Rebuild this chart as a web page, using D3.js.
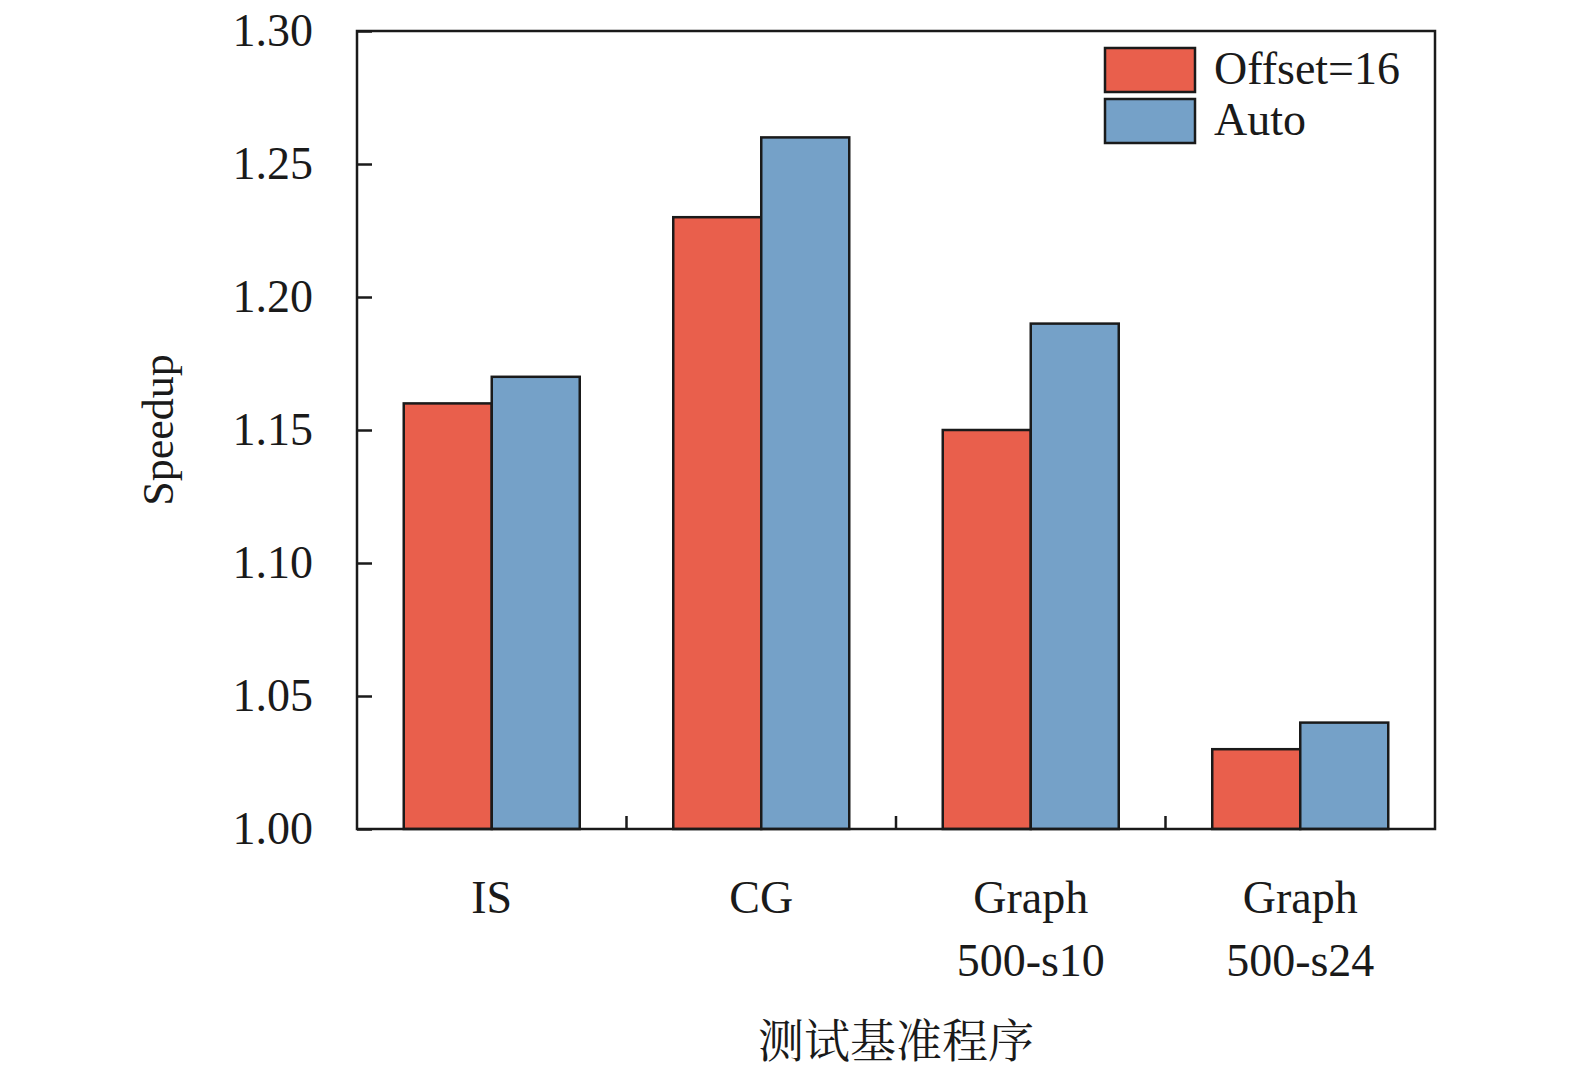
<!DOCTYPE html>
<html><head><meta charset="utf-8">
<script src="https://cdn.jsdelivr.net/npm/d3@7"></script>
<style>body{margin:0;background:#fff}</style></head>
<body><svg id="c" width="1575" height="1073"></svg>
<script>
const categories = [["IS"],["CG"],["Graph","500-s10"],["Graph","500-s24"]];
const seriesNames = ["Offset=16","Auto"];
const offset16 = [1.16,1.23,1.15,1.03];
const autoVals = [1.17,1.26,1.19,1.04];
const yTicks = [1.00,1.05,1.10,1.15,1.20,1.25,1.30];
const colors = ["#E95F4C","#75A1C8"];

const svg = d3.select("#c");
const L=357,R=1435,T=31,B=829;
const font="'Liberation Serif','Times New Roman',serif";
const x = d3.scaleBand().domain(d3.range(categories.length)).range([L,R]);
const inner = d3.scaleBand().domain([0,1]).range([0,176]);
const y = d3.scaleLinear().domain([1.0,1.3]).range([B,T]);

const data=[offset16,autoVals];
data.forEach((vals,s)=>{
  svg.selectAll(null).data(vals).enter().append("rect")
    .attr("x",(d,i)=>x(i)+(x.bandwidth()-176)/2+inner(s))
    .attr("width",inner.bandwidth())
    .attr("y",d=>y(d)).attr("height",d=>B-y(d))
    .attr("fill",colors[s]).attr("stroke","#1a1a1a").attr("stroke-width",2.5);
});
svg.append("rect").attr("x",L).attr("y",T).attr("width",R-L).attr("height",B-T)
  .attr("fill","none").attr("stroke","#1a1a1a").attr("stroke-width",2.5);

const ya=svg.append("g").attr("transform",`translate(${L},0)`)
  .call(d3.axisLeft(y).tickValues(yTicks).tickSize(-15).tickPadding(44).tickFormat(d3.format(".2f")));
ya.select(".domain").remove();
ya.selectAll("line").attr("stroke","#1a1a1a").attr("stroke-width",2.5);
ya.selectAll("text").attr("font-family",font).attr("font-size",46).attr("fill","#1a1a1a");

// inner x ticks at band boundaries
svg.selectAll(null).data(d3.range(1,categories.length)).enter().append("line")
  .attr("x1",i=>x(i)).attr("x2",i=>x(i)).attr("y1",B).attr("y2",B-13)
  .attr("stroke","#1a1a1a").attr("stroke-width",2.5);

categories.forEach((lines,i)=>{
  lines.forEach((t,j)=>{
    svg.append("text").attr("x",x(i)+x.bandwidth()/2).attr("y",913+j*63)
      .attr("text-anchor","middle").attr("font-family",font).attr("font-size",46)
      .attr("fill","#1a1a1a").text(t);
  });
});

svg.append("text").attr("transform","translate(173,430) rotate(-90)")
  .attr("text-anchor","middle").attr("font-family",font).attr("font-size",44)
  .attr("fill","#1a1a1a").text("Speedup");
svg.append("text").attr("x",896).attr("y",1057).attr("text-anchor","middle")
  .attr("font-family","'Noto Serif CJK SC','Noto Sans CJK SC',serif").attr("font-size",46)
  .attr("fill","#1a1a1a").text("测试基准程序");

seriesNames.forEach((n,s)=>{
  svg.append("rect").attr("x",1105).attr("y",48+s*51).attr("width",90).attr("height",44)
    .attr("fill",colors[s]).attr("stroke","#1a1a1a").attr("stroke-width",2.5);
  svg.append("text").attr("x",1214).attr("y",84+s*51).attr("font-family",font)
    .attr("font-size",46).attr("fill","#1a1a1a").text(n);
});
</script></body></html>
